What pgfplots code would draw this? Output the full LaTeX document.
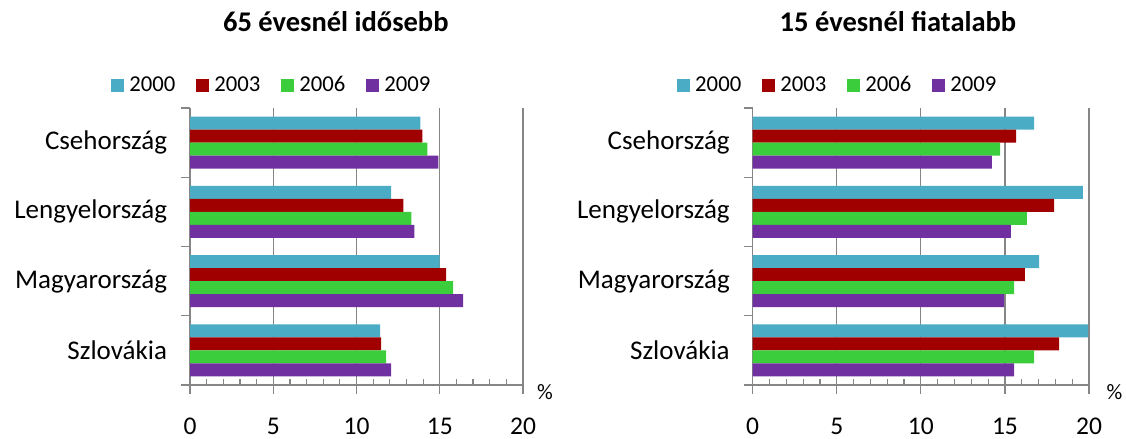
\documentclass[border=0pt]{standalone}
\usepackage{fontspec}
\setmainfont{Carlito}
\usepackage{pgfplots}
\pgfplotsset{compat=1.18}

\definecolor{axisgray}{RGB}{134,134,134}
\definecolor{cA}{RGB}{75,172,198}
\definecolor{cB}{RGB}{160,0,0}
\definecolor{cC}{RGB}{60,205,60}
\definecolor{cD}{RGB}{112,48,160}

\pgfplotsset{
  hbar/.style={
    xbar,
    scale only axis,
    height=277bp,
    xmin=0, xmax=20,
    ymin=-0.5, ymax=3.5,
    enlargelimits=false,
    axis lines=left,
    axis line style={-, draw=axisgray, line width=1.3bp},
    xtick={0,5,10,15,20},
    minor xtick={0,1,...,20},
    tick align=outside,
    major tick length=8.5bp,
    minor tick length=6bp,
    tick style={draw=axisgray, line width=1.2bp},
    minor x tick style={yshift=6bp},
    ytick={-0.5,0.5,1.5,2.5,3.5},
    yticklabels={{},Szlovákia,Magyarország,Lengyelország,Csehország},
    y tick label style={yshift=-34.6bp, font=\fontsize{27bp}{31bp}\selectfont},
    yticklabel shift=11bp,
    x tick label style={font=\fontsize{25.5bp}{30bp}\selectfont, inner sep=0pt},
    xticklabel shift=24bp,
    /pgf/number format/assume math mode=true,
    xmajorgrids,
    major grid style={draw=axisgray, line width=1.2bp},
    bar width=0.188,
    legend columns=4,
    legend style={draw=none, fill=none, anchor=west, inner sep=0pt,
      font=\fontsize{22.7bp}{26bp}\selectfont,
      nodes={inner xsep=3bp, inner ysep=0bp},
      /tikz/every odd column/.append style={column sep=2bp},
      /tikz/every even column/.append style={column sep=18bp}},
    legend image code/.code={\fill[##1] (0bp,-6.5bp) rectangle (13bp,6.5bp);},
    xlabel={\%},
    xlabel style={font=\fontsize{22bp}{25bp}\selectfont, anchor=center},
    title style={font=\fontsize{28.5bp}{32bp}\selectfont\bfseries, anchor=center},
  }
}

\begin{document}
\begin{tikzpicture}
\useasboundingbox (0,0) rectangle (1126bp,439bp);

% 65 évesnél idősebb
\begin{axis}[hbar,
    at={(190bp,54bp)}, anchor=south west,
    width=333bp,
    title={65 évesnél idősebb},
    title style={at={(axis description cs:0.438,1.289)}},
    legend style={at={(axis description cs:-0.237,1.083)}},
    xlabel style={at={(axis description cs:1.066,-0.025)}}]
\addplot[fill=cA, draw=none, bar shift=0.282] coordinates {(13.83,3) (12.08,2) (14.99,1) (11.42,0)};
\addplot[fill=cB, draw=none, bar shift=0.094] coordinates {(13.95,3) (12.81,2) (15.39,1) (11.48,0)};
\addplot[fill=cC, draw=none, bar shift=-0.094] coordinates {(14.25,3) (13.29,2) (15.81,1) (11.78,0)};
\addplot[fill=cD, draw=none, bar shift=-0.282] coordinates {(14.91,3) (13.47,2) (16.41,1) (12.08,0)};
\legend{2000,2003,2006,2009}
\end{axis}

% 15 évesnél fiatalabb
\begin{axis}[hbar,
    at={(752.7bp,54bp)}, anchor=south west,
    width=336.3bp,
    title={15 évesnél fiatalabb},
    title style={at={(axis description cs:0.432,1.289)}},
    legend style={at={(axis description cs:-0.225,1.083)}},
    xlabel style={at={(axis description cs:1.076,-0.025)}}]
\addplot[fill=cA, draw=none, bar shift=0.282] coordinates {(16.73,3) (19.64,2) (17.03,1) (19.94,0)};
\addplot[fill=cB, draw=none, bar shift=0.094] coordinates {(15.66,3) (17.92,2) (16.19,1) (18.22,0)};
\addplot[fill=cC, draw=none, bar shift=-0.094] coordinates {(14.71,3) (16.31,2) (15.54,1) (16.73,0)};
\addplot[fill=cD, draw=none, bar shift=-0.282] coordinates {(14.23,3) (15.36,2) (14.95,1) (15.54,0)};
\legend{2000,2003,2006,2009}
\end{axis}
\end{tikzpicture}
\end{document}
